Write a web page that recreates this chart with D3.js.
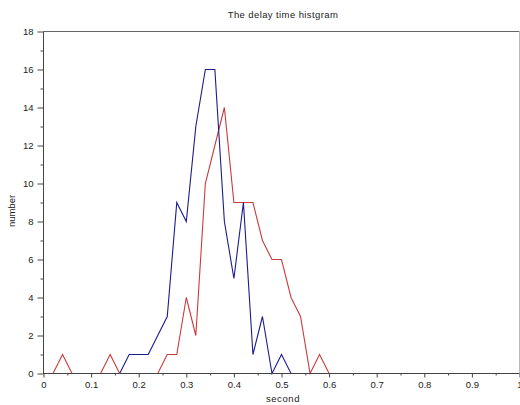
<!DOCTYPE html>
<html>
<head>
<meta charset="utf-8">
<script src="https://cdn.jsdelivr.net/npm/d3@7"></script>
<style>
  body { margin: 0; background: #fff; }
  svg text { font-family: "Liberation Sans", Arial, sans-serif; fill: #222; }
</style>
</head>
<body>
<svg id="chart" width="520" height="405"></svg>
<script>
// histogram bins (seconds), step 0.02
var bins = [0, 0.02, 0.04, 0.06, 0.08, 0.10, 0.12, 0.14, 0.16, 0.18, 0.20,
    0.22, 0.24, 0.26, 0.28, 0.30, 0.32, 0.34, 0.36, 0.38, 0.40,
    0.42, 0.44, 0.46, 0.48, 0.50, 0.52, 0.54, 0.56, 0.58, 0.60];
var blueCounts = [0, 0, 0, 0, 0, 0, 0, 0, 0, 1, 1,
    1, 2, 3, 9, 8, 13, 16, 16, 8, 5,
    9, 1, 3, 0, 1, 0, 0, 0, 0, 0];
var redCounts = [0, 0, 1, 0, 0, 0, 0, 1, 0, 0, 0,
    0, 0, 1, 1, 4, 2, 10, 12, 14, 9,
    9, 9, 7, 6, 6, 4, 3, 0, 1, 0];
var xTicks = [0, 0.1, 0.2, 0.3, 0.4, 0.5, 0.6, 0.7, 0.8, 0.9, 1];
var yTicks = [0, 2, 4, 6, 8, 10, 12, 14, 16, 18];

var svg = d3.select("#chart");

var x = d3.scaleLinear().domain([0, 1]).range([43.5, 519.5]);
var y = d3.scaleLinear().domain([0, 18]).range([373.5, 31.5]);

// title and axis labels
svg.append("text")
    .attr("x", 283).attr("y", 18)
    .attr("text-anchor", "middle")
    .style("font-size", "9.5px")
    .style("letter-spacing", "0.4px")
    .text("The delay time histgram");

svg.append("text")
    .attr("x", 283).attr("y", 402)
    .attr("text-anchor", "middle")
    .style("font-size", "9.5px")
    .style("letter-spacing", "0.6px")
    .text("second");

svg.append("text")
    .attr("transform", "translate(15,211) rotate(-90)")
    .attr("text-anchor", "middle")
    .style("font-size", "9.5px")
    .text("number");

// box (top and right)
svg.append("line")
    .attr("x1", x(0)).attr("x2", x(1))
    .attr("y1", y(18)).attr("y2", y(18))
    .attr("stroke", "#666");
svg.append("line")
    .attr("x1", x(1)).attr("x2", x(1))
    .attr("y1", y(18)).attr("y2", y(0))
    .attr("stroke", "#bbb");

// series
var line = d3.line()
    .x(function (d) { return x(d[0]); })
    .y(function (d) { return y(d[1]); });

svg.append("path")
    .datum(d3.zip(bins, redCounts))
    .attr("d", line)
    .attr("fill", "none")
    .attr("stroke", "#cc3b3b")
    .attr("stroke-width", 1.1);

svg.append("path")
    .datum(d3.zip(bins, blueCounts))
    .attr("d", line)
    .attr("fill", "none")
    .attr("stroke", "#1c1c8f")
    .attr("stroke-width", 1.1);

// x axis
var xAxis = d3.axisBottom(x)
    .tickValues(xTicks)
    .tickSize(4)
    .tickPadding(4)
    .tickFormat(d3.format("~g"));
var gx = svg.append("g")
    .attr("transform", "translate(0," + y(0) + ")")
    .call(xAxis);
var xMinor = d3.axisBottom(x)
    .tickValues(d3.range(0.05, 1, 0.1))
    .tickSize(2)
    .tickFormat("");
svg.append("g")
    .attr("transform", "translate(0," + y(0) + ")")
    .call(xMinor)
    .select(".domain").remove();

// y axis
var yAxis = d3.axisLeft(y)
    .tickValues(yTicks)
    .tickSize(6)
    .tickPadding(4);
var gy = svg.append("g")
    .attr("transform", "translate(" + x(0) + ",0)")
    .call(yAxis);
var yMinor = d3.axisLeft(y)
    .tickValues(d3.range(1, 18, 2))
    .tickSize(3)
    .tickFormat("");
svg.append("g")
    .attr("transform", "translate(" + x(0) + ",0)")
    .call(yMinor)
    .select(".domain").remove();

svg.selectAll(".domain").attr("stroke", "#444");
svg.selectAll(".tick line").attr("stroke", "#444");
svg.selectAll(".tick text")
    .style("font-size", "9.5px")
    .attr("fill", "#222");
gx.selectAll(".domain").attr("d", "M" + x(0) + ",0H" + x(1));
gy.selectAll(".domain").attr("d", "M0," + y(0) + "V" + y(18));
</script>
</body>
</html>
